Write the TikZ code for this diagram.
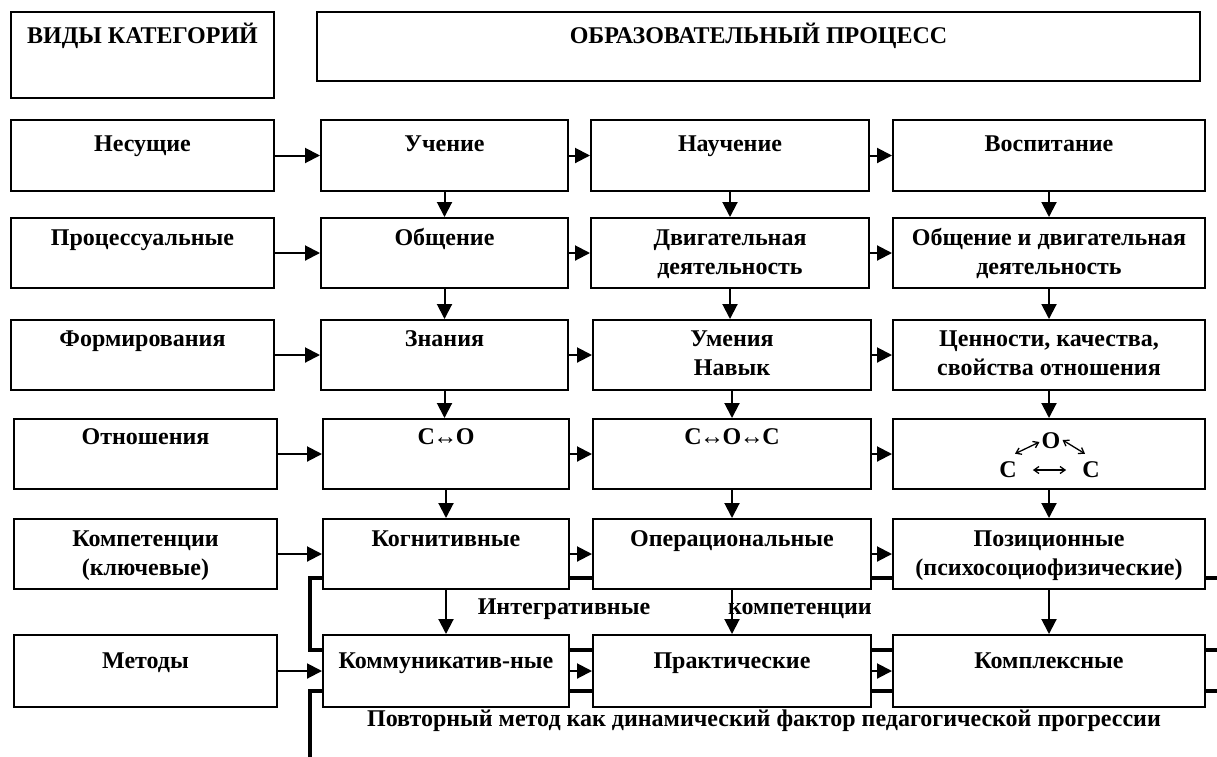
\documentclass[tikz,border=0pt]{standalone}
\usepackage{fontspec}
\setmainfont{Liberation Serif}
\usetikzlibrary{arrows.meta,calc}
\newcommand\cellbox[4]{\parbox[c][#1][t]{#2}{\centering\rule{0pt}{#3}#4\par}}
\newcommand\lr{\kern-1.5pt↔\kern-1.5pt}
\begin{document}
\begin{tikzpicture}[x=1pt,y=-1pt,
  cell/.style={draw, line width=2pt, fill=white, inner sep=0pt, anchor=north west,
    font=\bfseries\fontsize{24}{29}\selectfont},
  arr/.style={line width=2pt, -{Triangle[length=15pt,width=15pt]}},
  heavy/.style={line width=4.5pt},
  lbl/.style={font=\bfseries\fontsize{24}{29}\selectfont, inner sep=0pt},
  rel/.style={line width=1.3pt, {Straight Barb[length=5pt,width=7pt]}-{Straight Barb[length=5pt,width=7pt]}}
]
\useasboundingbox (0,0) rectangle (1217,756);

% heavy frame lines (behind the boxes)
\coordinate (fA) at (310,578);
\coordinate (fB) at (310,650);
\coordinate (fC) at (310,691);
\coordinate (fD) at (310,760);
\draw[heavy] (1222,578) -- (fA) -- (fB) -- (1222,650);
\draw[heavy] (1222,691) -- (fC) -- (fD);

% header
\node[cell] (hL) at (10,11) {\cellbox{86pt}{263pt}{31pt}{ВИДЫ КАТЕГОРИЙ}};
\node[cell] (hR) at (316,11) {\cellbox{69pt}{883pt}{31pt}{ОБРАЗОВАТЕЛЬНЫЙ ПРОЦЕСС}};

% row 1
\node[cell] (l1) at (10,119) {\cellbox{71pt}{263pt}{31pt}{Несущие}};
\node[cell] (a1) at (320,119) {\cellbox{71pt}{247pt}{31pt}{Учение}};
\node[cell] (b1) at (590,119) {\cellbox{71pt}{278pt}{31pt}{Научение}};
\node[cell] (c1) at (892,119) {\cellbox{71pt}{312pt}{31pt}{Воспитание}};
% row 2
\node[cell] (l2) at (10,217) {\cellbox{70pt}{263pt}{27pt}{Процессуальные}};
\node[cell] (a2) at (320,217) {\cellbox{70pt}{247pt}{27pt}{Общение}};
\node[cell] (b2) at (590,217) {\cellbox{70pt}{278pt}{27pt}{Двигательная\\деятельность}};
\node[cell] (c2) at (892,217) {\cellbox{70pt}{312pt}{27pt}{Общение и двигательная\\деятельность}};
% row 3
\node[cell] (l3) at (10,319) {\cellbox{70pt}{263pt}{26pt}{Формирования}};
\node[cell] (a3) at (320,319) {\cellbox{70pt}{247pt}{26pt}{Знания}};
\node[cell] (b3) at (592,319) {\cellbox{70pt}{278pt}{26pt}{Умения\\Навык}};
\node[cell] (c3) at (892,319) {\cellbox{70pt}{312pt}{26pt}{Ценности, качества,\\свойства отношения}};
% row 4
\node[cell] (l4) at (13,418) {\cellbox{70pt}{263pt}{25pt}{Отношения}};
\node[cell] (a4) at (322,418) {\cellbox{70pt}{246pt}{25pt}{С\lr О}};
\node[cell] (b4) at (592,418) {\cellbox{70pt}{278pt}{25pt}{С\lr О\lr С}};
\node[cell] (c4) at (892,418) {\cellbox{70pt}{312pt}{25pt}{}};
% row 5
\node[cell] (l5) at (13,518) {\cellbox{70pt}{263pt}{27pt}{Компетенции\\(ключевые)}};
\node[cell] (a5) at (322,518) {\cellbox{70pt}{246pt}{27pt}{Когнитивные}};
\node[cell] (b5) at (592,518) {\cellbox{70pt}{278pt}{27pt}{Операциональные}};
\node[cell] (c5) at (892,518) {\cellbox{70pt}{312pt}{27pt}{Позиционные\\(психосоциофизические)}};
% row 6
\node[cell] (l6) at (13,634) {\cellbox{72pt}{263pt}{33pt}{Методы}};
\node[cell] (a6) at (322,634) {\cellbox{72pt}{246pt}{33pt}{Коммуникатив-ные}};
\node[cell] (b6) at (592,634) {\cellbox{72pt}{278pt}{33pt}{Практические}};
\node[cell] (c6) at (892,634) {\cellbox{72pt}{312pt}{33pt}{Комплексные}};

% relation triangle in c4
\node[lbl] (rO) at (1051,441) {О};
\node[lbl] (rC1) at (1008,470) {С};
\node[lbl] (rC2) at (1091,470) {С};
\draw[rel] ([xshift=7pt,yshift=8pt]rC1.north) -- ([xshift=-2pt,yshift=-1pt]rO.west);
\draw[rel] ([xshift=2pt,yshift=1pt]rO.east) -- ([xshift=-6pt,yshift=8pt]rC2.north);
\draw[rel] ([xshift=16pt]rC1.east) -- ([xshift=-16pt]rC2.west);

% horizontal arrows
\foreach \r in {1,...,6}{
  \draw[arr] (l\r.east) -- (a\r.west);
  \draw[arr] (a\r.east) -- (b\r.west);
  \draw[arr] (b\r.east) -- (c\r.west);
}
% vertical arrows
\foreach \r/\s in {1/2,2/3,3/4,4/5,5/6}{
  \draw[arr] (a\r.south) -- (a\r.south |- a\s.north);
  \draw[arr] (b\r.south) -- (b\r.south |- b\s.north);
  \draw[arr] (c\r.south) -- (c\r.south |- c\s.north);
}

% free labels
\node[lbl, anchor=base] (integ) at (564,614) {Интегративные};
\node[lbl, anchor=base] (komp) at (800,614) {компетенции};
\node[lbl, anchor=base] (povt) at (764,726) {Повторный метод как динамический фактор педагогической прогрессии};
\end{tikzpicture}
\end{document}
